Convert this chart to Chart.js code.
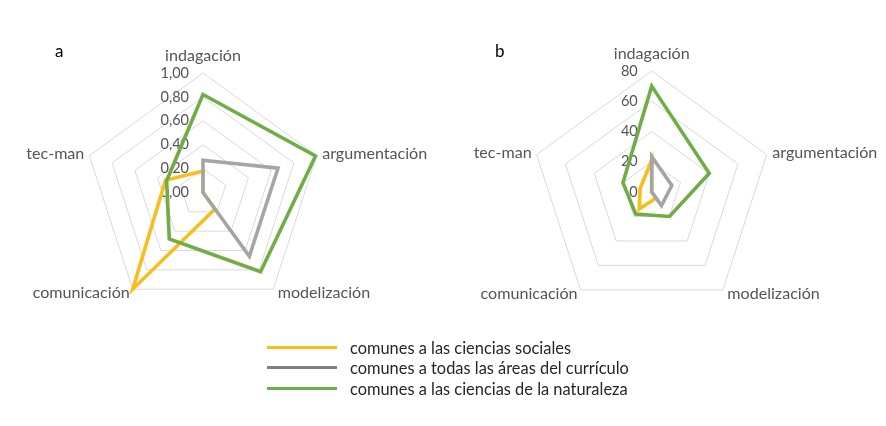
<!DOCTYPE html>
<html>
<head>
<meta charset="utf-8">
<script src="https://cdn.jsdelivr.net/npm/chart.js@4.4.1/dist/chart.umd.min.js"></script>
<style>
  html, body { margin: 0; padding: 0; background: #fff; }
  #wrap { position: relative; width: 886px; height: 426px; background: #fff; overflow: hidden; }
  canvas { position: absolute; top: 0; }
  #legend { position: absolute; left: 267px; top: 337px; font-family: Lato, sans-serif; font-size: 16.4px; color: #262626; }
  .row { position: relative; height: 20.3px; line-height: 20.3px; white-space: nowrap; }
  .sw { position: absolute; left: 0; top: 9px; width: 70px; height: 3px; }
  .tx { position: absolute; left: 83px; top: 1px; }
</style>
</head>
<body>
<div id="wrap">
  <canvas id="ca" width="443" height="426" style="left:0"></canvas>
  <canvas id="cb" width="443" height="426" style="left:443px"></canvas>
  <div id="legend"></div>
</div>
<script>
// ---- data ----
const categories = ['indagación', 'argumentación', 'modelización', 'comunicación', 'tec-man'];
const seriesNames = ['comunes a las ciencias sociales', 'comunes a todas las áreas del currículo', 'comunes a las ciencias de la naturaleza'];
// panel a
const socialesA   = [0.18, 0.00, 0.17, 1.00, 0.33];
const todasA      = [0.27, 0.66, 0.66, 0.00, 0.00];
const naturalezaA = [0.82, 0.99, 0.82, 0.48, 0.32];
const ticksA = ['0,00', '0,20', '0,40', '0,60', '0,80', '1,00'];
// panel b
const socialesB   = [21, 0, 5, 14, 8];
const todasB      = [23.5, 14, 11, 0, 0];
const naturalezaB = [70, 40, 20, 18, 20];
const ticksB = ['0', '20', '40', '60', '80'];

const colors = ['#F7BE1E', '#A5A5A5', '#70AD47'];
const legendColors = ['#F7BE1E', '#808080', '#70AD47'];

const FONT = 'Lato, sans-serif';

const excelLabels = {
  id: 'excelLabels',
  beforeDatasetsDraw(chart, args, o) {
    const s = chart.scales.r, ctx = chart.ctx;
    ctx.save();
    ctx.fillStyle = '#555555';
    ctx.font = '14.5px ' + FONT;
    ctx.textAlign = 'right';
    ctx.textBaseline = 'middle';
    s.ticks.forEach(t => {
      const d = s.getDistanceFromCenterForValue(t.value);
      ctx.fillText(t.label, s.xCenter - 14, s.yCenter - d);
    });
    ctx.restore();
  },
  afterDraw(chart, args, o) {
    const s = chart.scales.r, ctx = chart.ctx;
    ctx.save();
    ctx.fillStyle = '#555555';
    ctx.font = '16.1px ' + FONT;
    ctx.textBaseline = 'middle';
    const offs = [[0, -17, 'center'], [5.5, -1.5, 'left'], [4.5, 4, 'left'], [-3, 4, 'right'], [-5, -1.5, 'right']];
    chart.data.labels.forEach((lab, i) => {
      const p = s.getPointPosition(i, s.drawingArea);
      const [dx, dy, al] = offs[i];
      ctx.textAlign = al;
      ctx.fillText(lab, p.x + dx, p.y + dy);
    });
    ctx.fillStyle = '#000';
    ctx.font = '17px ' + FONT;
    ctx.textAlign = 'left';
    ctx.fillText(o.letter, o.lx, o.ly);
    ctx.restore();
  }
};

function makeRadar(id, sets, max, step, tickLabels, cx, cy, R, letter, lx, ly) {
  return new Chart(document.getElementById(id), {
    type: 'radar',
    data: {
      labels: categories,
      datasets: sets.map((d, i) => ({
        label: seriesNames[i],
        data: d,
        borderColor: colors[i],
        backgroundColor: 'transparent',
        borderWidth: 3.6,
        pointRadius: 0,
        pointHoverRadius: 0,
        fill: false,
        order: 3 - i
      }))
    },
    options: {
      responsive: false,
      animation: false,
      events: [],
      layout: { padding: 0 },
      plugins: {
        legend: { display: false },
        tooltip: { enabled: false },
        excelLabels: { letter, lx, ly }
      },
      scales: {
        r: {
          min: 0,
          max: max,
          ticks: { stepSize: step, display: false, callback: (v, i) => tickLabels[i] },
          pointLabels: { display: false },
          angleLines: { display: false },
          grid: { color: '#D9D9D9', lineWidth: 1 },
          afterFit: (scale) => {
            scale.xCenter = cx;
            scale.yCenter = cy;
            scale.drawingArea = R;
          }
        }
      }
    },
    plugins: [excelLabels]
  });
}

makeRadar('ca', [socialesA, todasA, naturalezaA], 1, 0.2, ticksA, 203, 192.5, 119.5, 'a', 55, 52);
makeRadar('cb', [socialesB, todasB, naturalezaB], 80, 20, ticksB, 208.7, 192, 121, 'b', 52, 52);

// legend (HTML text)
const leg = document.getElementById('legend');
seriesNames.forEach((n, i) => {
  const r = document.createElement('div');
  r.className = 'row';
  r.innerHTML = '<div class="sw" style="background:' + legendColors[i] + '"></div><div class="tx"></div>';
  r.querySelector('.tx').textContent = n;
  leg.appendChild(r);
});
</script>
</body>
</html>
